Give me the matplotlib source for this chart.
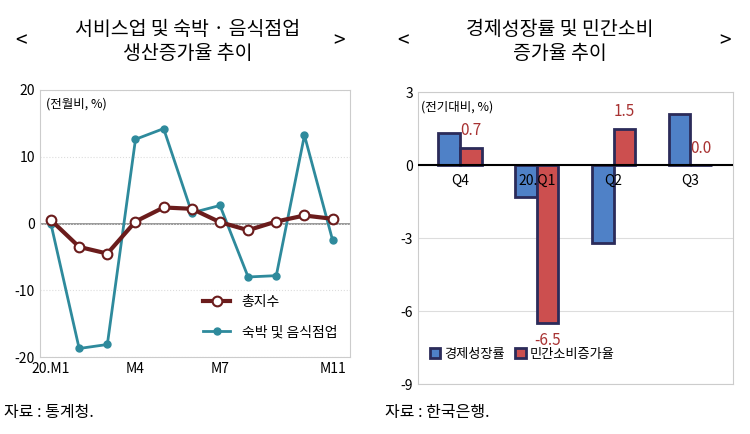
import matplotlib.pyplot as plt
import numpy as np

plt.rcParams['font.family'] = ['Noto Sans CJK JP', 'Noto Sans CJK KR', 'Noto Sans CJK SC', 'DejaVu Sans']
plt.rcParams['axes.unicode_minus'] = False

months = ['20.M1', '', '', 'M4', '', '', 'M7', '', '', '', 'M11']
total_idx = [0.5, -3.5, -4.5, 0.3, 2.4, 2.2, 0.2, -1.0, 0.3, 1.2, 0.7]
accom_food = [-0.1, -18.7, -18.1, 12.6, 14.2, 1.6, 2.7, -8.0, -7.8, 13.2, -2.5]

quarters = ['Q4', '20.Q1', 'Q2', 'Q3']
gdp_growth = [1.3, -1.3, -3.2, 2.1]
consumption = [0.7, -6.5, 1.5, 0.0]
cons_labels = ['0.7', '-6.5', '1.5', '0.0']

fig = plt.figure(figsize=(7.5, 4.34), dpi=100)

# titles
fig.text(0.02, 0.905, '<', fontsize=15, ha='left', va='center')
fig.text(0.46, 0.905, '>', fontsize=15, ha='right', va='center')
fig.text(0.25, 0.905, '서비스업 및 숙박 · 음식점업\n생산증가율 추이', fontsize=14,
         ha='center', va='center', linespacing=1.2)
fig.text(0.53, 0.905, '<', fontsize=15, ha='left', va='center')
fig.text(0.975, 0.905, '>', fontsize=15, ha='right', va='center')
fig.text(0.747, 0.905, '경제성장률 및 민간소비\n증가율 추이', fontsize=14,
         ha='center', va='center', linespacing=1.2)
fig.text(0.005, 0.05, '자료 : 통계청.', fontsize=11.5, ha='left', va='center')
fig.text(0.513, 0.05, '자료 : 한국은행.', fontsize=11.5, ha='left', va='center')

# left chart
ax = fig.add_axes([0.053, 0.177, 0.413, 0.616])
x = np.arange(len(months))
ax.axhline(0, color='#888888', lw=1.2, zorder=1)
ax.plot(x, accom_food, color='#2e8a9c', lw=2, marker='o', ms=5, label='숙박 및 음식점업', zorder=3)
ax.plot(x, total_idx, color='#6b1c1c', lw=3, marker='o', ms=7, mfc='white', mec='#6b1c1c',
        mew=1.5, label='총지수', zorder=4)
ax.set_xlim(-0.4, 10.6)
ax.set_ylim(-20, 20)
ax.set_yticks([-20, -10, 0, 10, 20])
ax.set_xticks(x)
ax.set_xticklabels(months, fontsize=10)
ax.tick_params(axis='both', length=0, labelsize=10)
ax.grid(axis='y', color='#dddddd', ls=':', lw=0.8)
for s in ax.spines.values():
    s.set_color('#cccccc')
ax.text(0.02, 0.97, '(전월비, %)', transform=ax.transAxes, fontsize=9, va='top')
h, l = ax.get_legend_handles_labels()
ax.legend(h[::-1], l[::-1], loc='lower right', bbox_to_anchor=(1.0, 0.02), frameon=False,
          fontsize=10, handlelength=2, labelspacing=1.2)

# right chart
ax2 = fig.add_axes([0.557, 0.115, 0.42, 0.673])
q = np.arange(len(quarters))
w = 0.28
ax2.bar(q - w / 2, gdp_growth, w, color='#4f81c7', edgecolor='#2b2b5a', lw=2, label='경제성장률', zorder=3)
ax2.bar(q + w / 2, consumption, w, color='#cc4f4f', edgecolor='#2b2b5a', lw=2, label='민간소비증가율', zorder=3)
for xi, v, t in zip(q, consumption, cons_labels):
    off = 0.35 if v >= 0 else -0.35
    ax2.text(xi + w / 2, v + off, t, color='#a83232', fontsize=11,
             ha='center', va='bottom' if v >= 0 else 'top', zorder=5)
ax2.axhline(0, color='black', lw=1.5, zorder=4)
ax2.set_xlim(-0.55, 3.55)
ax2.set_ylim(-9, 3)
ax2.set_yticks([-9, -6, -3, 0, 3])
ax2.set_xticks([])
for xi, t in zip(q, quarters):
    ax2.text(xi, -0.35, t, ha='center', va='top', fontsize=10, zorder=5)
ax2.tick_params(axis='both', length=0, labelsize=10)
ax2.grid(axis='y', color='#dddddd', lw=0.8)
for s in ax2.spines.values():
    s.set_color('#cccccc')
ax2.text(0.01, 0.97, '(전기대비, %)', transform=ax2.transAxes, fontsize=9, va='top')
ax2.legend(loc='lower left', bbox_to_anchor=(0.0, 0.04), ncol=2, frameon=False, fontsize=9.5,
           handlelength=0.8, handletextpad=0.3, columnspacing=0.8)

fig.savefig('out.png', dpi=100)
